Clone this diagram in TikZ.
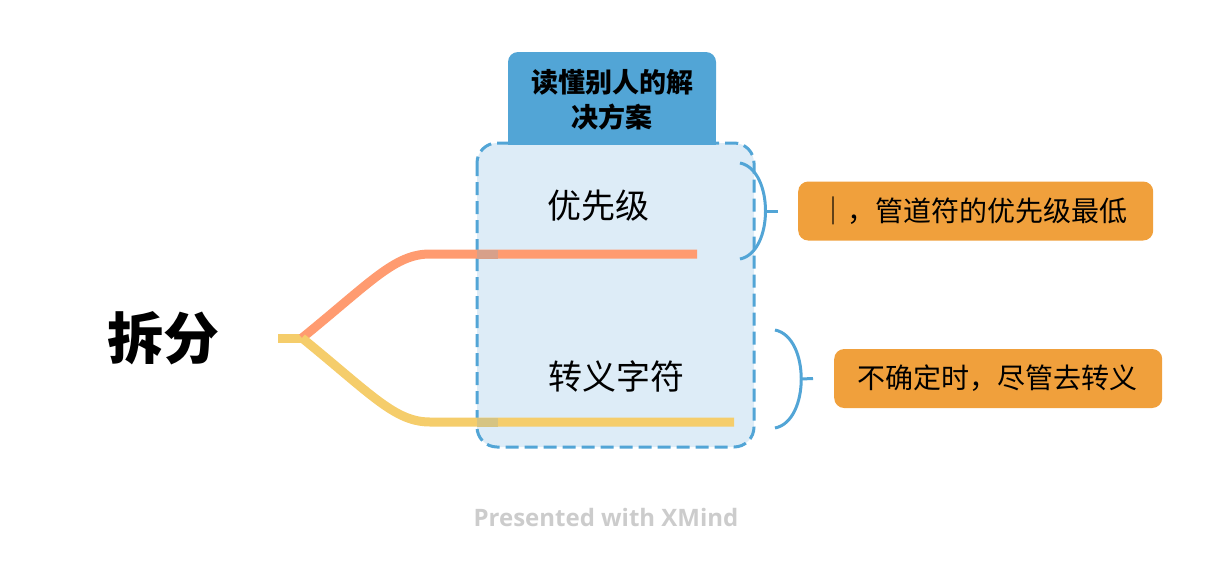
\documentclass[tikz,border=0pt]{standalone}
\usepackage{fontspec}
\setmainfont{Open Sans}
\newfontfamily\cjk{Noto Sans CJK SC}
\definecolor{lblue}{HTML}{52A5D6}
\definecolor{boxfill}{HTML}{DDECF7}
\definecolor{branchA}{HTML}{FF9B70}
\definecolor{branchB}{HTML}{F5CD6B}
\definecolor{patchA}{RGB}{215,160,138}
\definecolor{patchB}{RGB}{214,196,130}
\definecolor{callout}{HTML}{F0A03C}
\definecolor{wm}{HTML}{CCCCCC}
\begin{document}
\begin{tikzpicture}[x=1pt,y=-1pt,
  branch/.style={line width=9pt,line cap=butt},
  topic/.style={font=\cjk\fontsize{34}{40}\selectfont,inner sep=0pt},
  calloutbox/.style={fill=callout,rounded corners=10pt,font=\cjk\fontsize{28}{32}\selectfont,inner sep=0pt,minimum height=59pt,anchor=west},
  bracket/.style={draw=lblue,line width=3pt}
]
\useasboundingbox (0,0) rectangle (1212,568);
% summary box
\path[fill=boxfill,draw=lblue,line width=3pt,dash pattern=on 13pt off 6pt,rounded corners=20pt]
  (477,143) rectangle (754,447);
% label
\fill[lblue,rounded corners=10pt] (508,52) rectangle (716,120);
\fill[lblue] (508,100) rectangle (716,145);
\node[font=\cjk\bfseries\fontsize{27}{35}\selectfont,align=center,inner sep=0pt] (label) at (612,100) {读懂别人的解\\决方案};
% root
\node[font=\cjk\bfseries\fontsize{56}{60}\selectfont,inner sep=0pt] (root) at (163,338) {拆分};
\coordinate (rootend) at (278,338);
\coordinate (fork) at (302,338);
\coordinate (endA) at (697,254);
\coordinate (endB) at (734,422);
% branches
\draw[branch,branchB] (rootend) -- (fork);
\draw[branch,branchA] (fork) .. controls (372,281) and (395,254) .. (430,254) -- (endA);
\draw[branch,branchB] (fork) .. controls (372,395) and (395,422) .. (430,422) -- (endB);
\fill[patchA] (477,249.5) rectangle (498,258.5);
\fill[patchB] (477,417.5) rectangle (498,426.5);
% topics
\node[topic] (t1) at (598,206) {优先级};
\node[topic] (t2) at (616,376) {转义字符};
% brackets
\coordinate (b1top) at (740,163);
\coordinate (b1bot) at (740,259);
\coordinate (b1mid) at (765,211);
\coordinate (b2top) at (775,330);
\coordinate (b2bot) at (775,428);
\coordinate (b2mid) at (801,379);
\draw[bracket] (b1top) .. controls (774,170) and (774,252) .. (b1bot);
\draw[bracket] (b2top) .. controls (810,337) and (810,421) .. (b2bot);
% callouts
\node[calloutbox] (c1) at (798,211) {\makebox[355pt][l]{\hspace*{21pt}｜，管道符的优先级最低}};
\node[calloutbox] (c2) at (834,378.5) {\makebox[328pt][l]{\hspace*{23pt}不确定时，尽管去转义}};
\draw[bracket] (b1mid) -- (c1.west -| 778,0);
\draw[bracket] (b2mid) -- (c2.west -| 813,0);
% watermark
\node[font=\bfseries\fontsize{24}{28}\selectfont,text=wm,inner sep=0pt] (wmk) at (606,517) {Presented with XMind};
\end{tikzpicture}
\end{document}
